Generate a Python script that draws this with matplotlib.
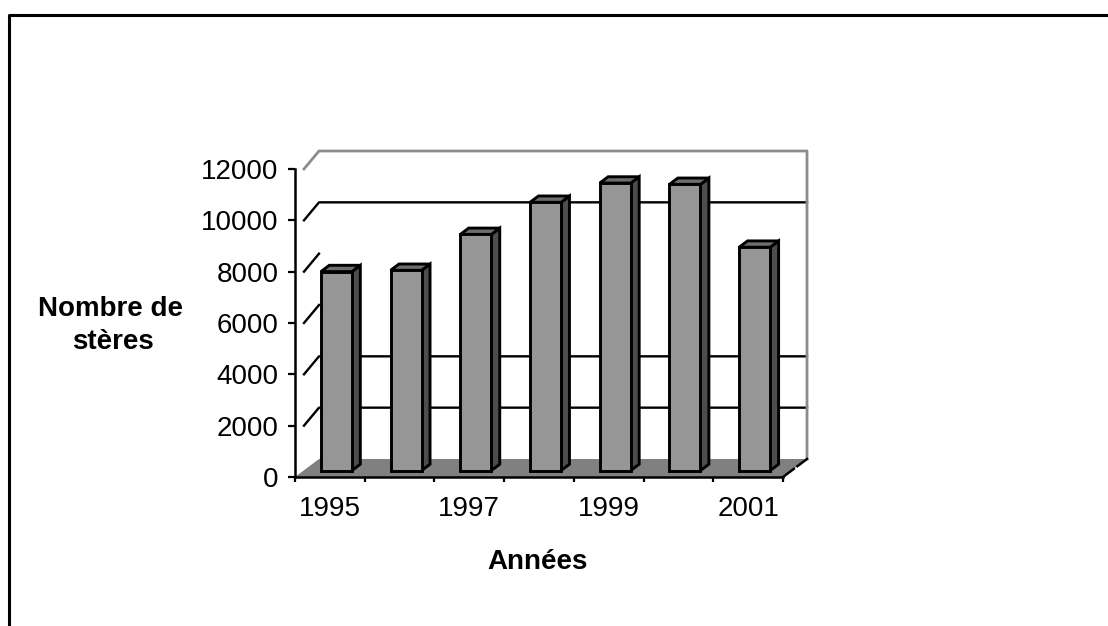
'''3D style column chart: firewood volume per year.'''
import matplotlib
matplotlib.use('Agg')
import matplotlib.pyplot as plt
from matplotlib.lines import Line2D
from matplotlib.patches import Polygon

years = [1995, 1996, 1997, 1998, 1999, 2000, 2001]
steres = [7750, 7800, 9200, 10450, 11200, 11150, 8700]
year_labels = ['1995', '', '1997', '', '1999', '', '2001']
y_ticks = [0, 2000, 4000, 6000, 8000, 10000, 12000]
wall_lines = [2000, 4000, 10000]
stub_lines = [6000, 8000]

W, H = 1108, 626
plt.rcParams['font.family'] = ['Liberation Sans', 'DejaVu Sans']

fig = plt.figure(figsize=(W / 100, H / 100), dpi=100)
left, right, top, bottom = 295, 783, 169, 477
ax = fig.add_axes([left / W, 1 - bottom / H, (right - left) / W, (bottom - top) / H])
ax.set_xlim(0, len(years))
ax.set_ylim(0, 12000)
ax.patch.set_alpha(0)

# depth of the fake 3D box, in data units
depth_x = 24 / (right - left) * len(years)
depth_y = 18 / (bottom - top) * 12000


def shift(x, y, f):
	return (x + depth_x * f, y + depth_y * f)


n = len(years)

# floor
ax.add_patch(Polygon([shift(0, 0, 0), shift(n, 0, 0), shift(n, 0, 1), shift(0, 0, 1)],
	closed=True, fc='#808080', ec='none', clip_on=False, zorder=1))

# back wall lines
for v in wall_lines:
	ax.plot(*zip(shift(0.06, v - depth_y * 0.2, 0.2), shift(0, v, 1), shift(n, v, 1)),
		color='black', lw=1.7, clip_on=False, zorder=1)
for v in stub_lines:
	ax.plot(*zip(shift(0.06, v - depth_y * 0.2, 0.2), shift(0, v, 1)),
		color='black', lw=1.7, clip_on=False, zorder=1)
ax.plot(*zip(shift(0.06, 12000 - depth_y * 0.2, 0.2), shift(0, 12000, 1), shift(n, 12000, 1), shift(n, 0, 1)),
	color='#8c8c8c', lw=2, clip_on=False, zorder=1)
ax.plot(*zip(shift(n, 0, 0), shift(n, 0, 0.45)), color='black', lw=1.8, clip_on=False, zorder=2)
ax.plot(*zip(shift(n, 0, 0.6), shift(n, 0, 1)), color='black', lw=1.8, clip_on=False, zorder=2)

# columns
bar_w = 0.445
f0, f1 = 0.36, 0.71
for i, v in enumerate(steres):
	x0 = i + 0.47 - bar_w / 2
	x1 = x0 + bar_w
	style = dict(closed=True, ec='black', lw=2.1, joinstyle='miter', clip_on=False, zorder=3)
	ax.add_patch(Polygon([shift(x1, 0, f0), shift(x1, 0, f1), shift(x1, v, f1), shift(x1, v, f0)],
		fc='#4d4d4d', **style))
	ax.add_patch(Polygon([shift(x0, v, f0), shift(x1, v, f0), shift(x1, v, f1), shift(x0, v, f1)],
		fc='#6e6e6e', **style))
	ax.add_patch(Polygon([shift(x0, 0, f0), shift(x1, 0, f0), shift(x1, v, f0), shift(x0, v, f0)],
		fc='#969696', **style))

# axes
for side in ('top', 'right'):
	ax.spines[side].set_visible(False)
for side in ('left', 'bottom'):
	ax.spines[side].set_linewidth(1.8)
	ax.spines[side].set_zorder(4)

ax.set_yticks(y_ticks)
ax.set_xticks(range(n + 1))
ax.set_xticklabels([])
ax.set_xticks([i + 0.5 for i in range(n)], minor=True)
ax.set_xticklabels(year_labels, minor=True)
ax.tick_params(axis='y', length=5, width=1.6, pad=7, labelsize=20)
ax.tick_params(axis='x', which='major', length=3.5, width=1.6)
ax.tick_params(axis='x', which='minor', length=0, pad=14, labelsize=20)

# titles
fig.text(111 / W, 1 - 309 / H, 'Nombre de', fontsize=20, fontweight='bold', ha='center', va='center')
fig.text(113 / W, 1 - 342 / H, 'stères', fontsize=20, fontweight='bold', ha='center', va='center')
fig.text(537 / W, 1 - 562 / H, 'Années', fontsize=20, fontweight='bold', ha='center', va='center')

# outer frame, cut by the picture edge on the right and at the bottom
fig.add_artist(Line2D([9 / W, 9 / W, 1], [0, 1 - 15 / H, 1 - 15 / H], color='black', lw=2.2))

fig.savefig('out.png', dpi=100)
